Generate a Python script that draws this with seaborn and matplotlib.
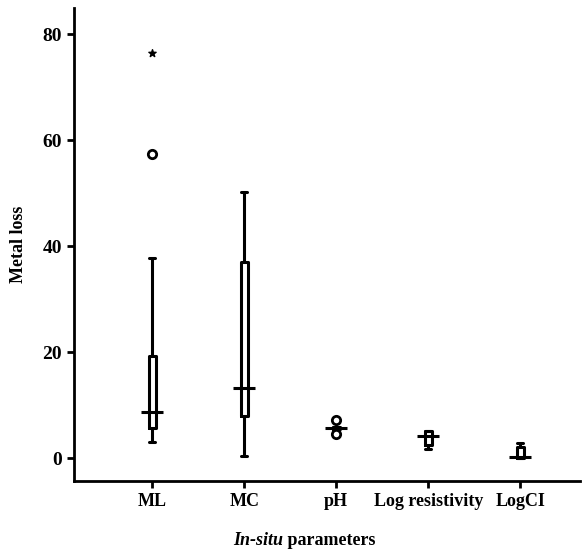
import matplotlib
matplotlib.use("Agg")
import matplotlib.pyplot as plt
import seaborn as sns

# ------------------------------------------------------------------
# data (five-number summaries per parameter)
# ------------------------------------------------------------------
params = ["ML", "MC", "pH", "Log resistivity", "LogCI"]
whis_lo = [3.0, 0.4, 5.7, 1.8, 0.0]
q1 = [5.7, 8.0, 5.6, 2.5, 0.0]
medians = [8.7, 13.3, 5.7, 4.3, 0.2]
q3 = [19.3, 37.0, 5.9, 5.1, 2.1]
whis_hi = [37.7, 50.2, 5.9, 5.1, 2.8]
outliers = [[57.4], [], [7.2, 4.5], [], []]   # circles
extremes = [[76.4], [], [], [], []]           # asterisks

sns.set_style("ticks")
plt.rcParams["font.family"] = ["Liberation Serif", "DejaVu Serif"]
plt.rcParams["text.color"] = "black"
plt.rcParams["axes.labelcolor"] = "black"
plt.rcParams["xtick.color"] = "black"
plt.rcParams["ytick.color"] = "black"

fig = plt.figure(figsize=(5.85, 5.53), dpi=100)
ax = fig.add_axes([0.1265, 0.13, 0.865, 0.855])

stats = []
for i, name in enumerate(params):
    stats.append(dict(label=name, whislo=whis_lo[i], q1=q1[i], med=medians[i],
                      q3=q3[i], whishi=whis_hi[i], fliers=outliers[i]))

lw = 2.2
pos = list(range(len(params)))
ax.bxp(stats, positions=pos, widths=0.075, showfliers=True,
       boxprops=dict(color="black", linewidth=lw),
       whiskerprops=dict(color="black", linewidth=lw),
       capprops=dict(color="black", linewidth=lw),
       medianprops=dict(color="none"),
       capwidths=0.06,
       flierprops=dict(marker="o", markersize=6, markerfacecolor="white",
                       markeredgecolor="black", markeredgewidth=2))

# wide median bars
ax.hlines(medians, [p - 0.12 for p in pos], [p + 0.12 for p in pos],
          color="black", linewidth=lw, zorder=3)

# extreme values (asterisks)
for i, vals in enumerate(extremes):
    if vals:
        ax.scatter([pos[i]] * len(vals), vals, marker="*", s=30, color="black",
                   zorder=3)

ax.set_xlim(-0.85, 4.65)
ax.set_ylim(-4.3, 84.9)
ax.set_yticks([0, 20, 40, 60, 80])
ax.set_xticks(pos)
ax.set_xticklabels(params)
ax.tick_params(axis="both", direction="out", length=5, width=2)
ax.tick_params(axis="x", labelsize=13)
ax.tick_params(axis="y", labelsize=14)
for lab in ax.get_yticklabels() + ax.get_xticklabels():
    lab.set_fontweight("bold")
ax.set_ylabel("Metal loss", fontsize=13, fontweight="bold")
ax.yaxis.set_label_coords(-0.093, 0.5)
ax.set_xlabel("")

# x label: italic "In-situ" + upright "parameters"
ax.text(0.413, -0.125, "In-situ", transform=ax.transAxes, fontsize=13,
        style="italic", fontweight="bold", ha="right", va="center")
ax.text(0.413, -0.125, " parameters", transform=ax.transAxes, fontsize=13,
        fontweight="bold", ha="left", va="center")

sns.despine(ax=ax)
for s in ["left", "bottom"]:
    ax.spines[s].set_linewidth(2)
    ax.spines[s].set_color("black")

fig.savefig("out.png", dpi=100)
